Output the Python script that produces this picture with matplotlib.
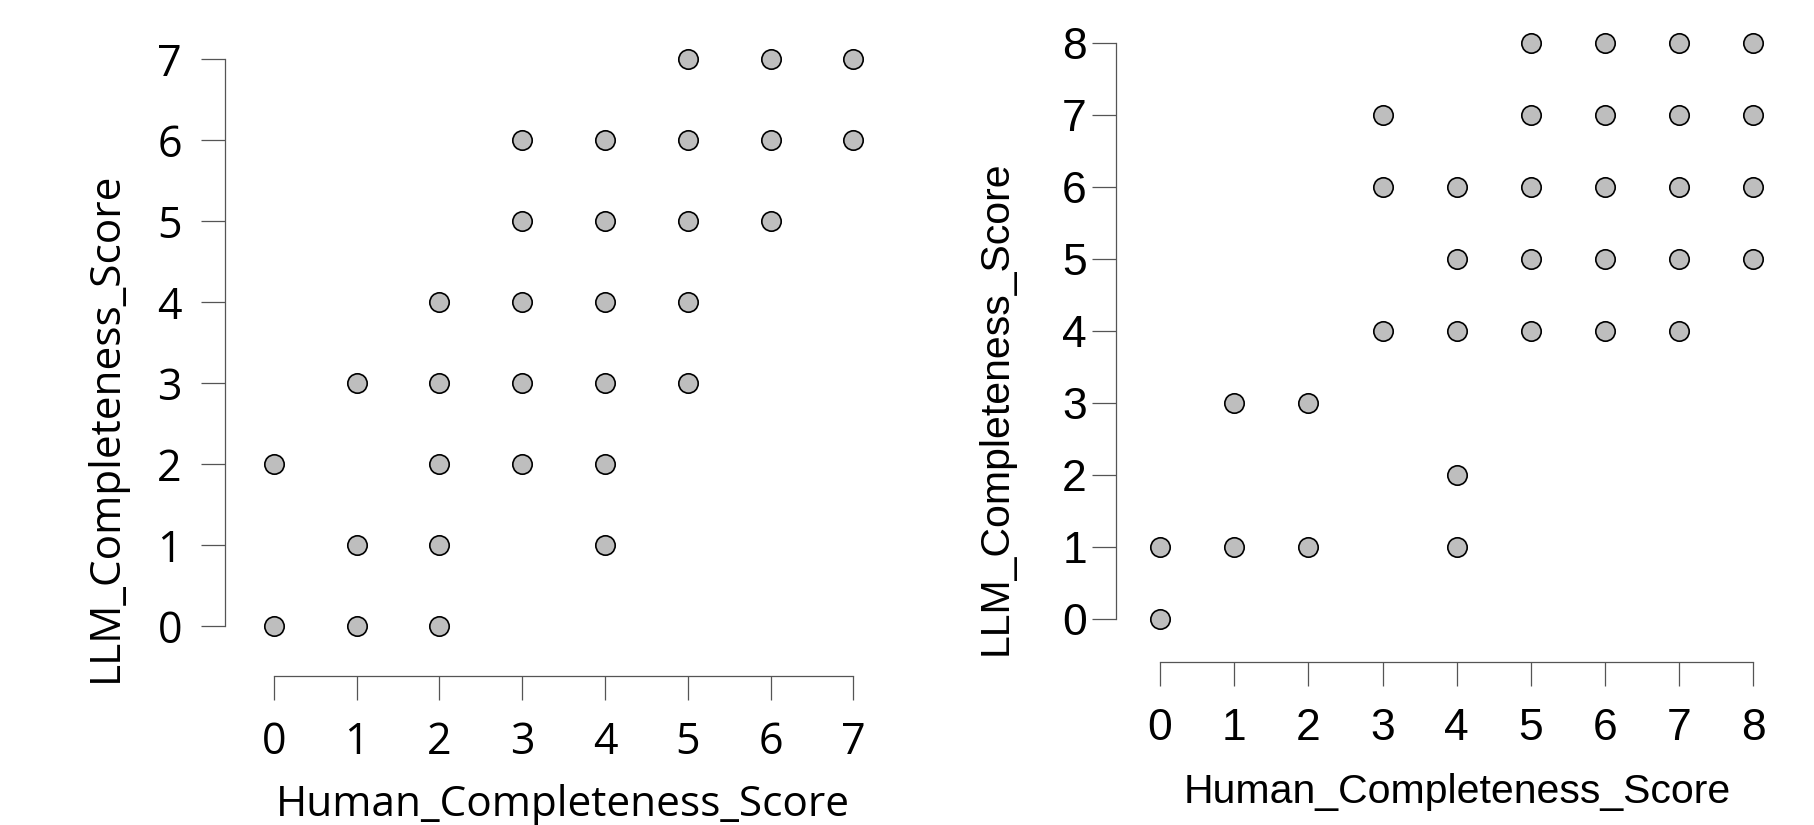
import matplotlib.pyplot as plt
import numpy as np

# left panel: human vs LLM completeness scores (0-7)
left_human = [0, 0, 1, 1, 1, 2, 2, 2, 2, 2, 3, 3, 3, 3, 3,
              4, 4, 4, 4, 4, 4, 5, 5, 5, 5, 5, 6, 6, 6, 7, 7]
left_llm = [0, 2, 0, 1, 3, 0, 1, 2, 3, 4, 2, 3, 4, 5, 6,
            1, 2, 3, 4, 5, 6, 3, 4, 5, 6, 7, 5, 6, 7, 6, 7]

# right panel: human vs LLM completeness scores (0-8)
right_human = [0, 0, 1, 1, 2, 2, 3, 3, 3, 4, 4, 4, 4, 4,
               5, 5, 5, 5, 5, 6, 6, 6, 6, 6, 7, 7, 7, 7, 7, 8, 8, 8, 8]
right_llm = [0, 1, 1, 3, 1, 3, 4, 6, 7, 1, 2, 4, 5, 6,
             4, 5, 6, 7, 8, 4, 5, 6, 7, 8, 4, 5, 6, 7, 8, 5, 6, 7, 8]

W, H = 1815, 825
fig = plt.figure(figsize=(W / 100, H / 100), dpi=100)


def px_axes(left, top, right, bottom):
    return fig.add_axes([left / W, 1 - bottom / H, (right - left) / W, (bottom - top) / H])


def style(ax, xs, ys, nmax, xlim, ylim, font, xpad, ypad, size):
    ax.scatter(xs, ys, s=195, c="#bebebe", edgecolors="black",
               linewidths=1.2, zorder=3, clip_on=False)
    ax.set_xlim(*xlim)
    ax.set_ylim(*ylim)
    ticks = np.arange(nmax + 1)
    ax.set_xticks(ticks)
    ax.set_yticks(ticks)
    for s in ["top", "right"]:
        ax.spines[s].set_visible(False)
    for s in ["left", "bottom"]:
        ax.spines[s].set_bounds(0, nmax)
        ax.spines[s].set_color("#555555")
        ax.spines[s].set_linewidth(0.9)
    ax.tick_params(axis="both", direction="out", length=17, width=0.9,
                   color="#555555", labelsize=size)
    ax.tick_params(axis="x", pad=xpad)
    ax.tick_params(axis="y", pad=ypad)
    for lab in ax.get_xticklabels() + ax.get_yticklabels():
        lab.set_fontfamily(font)
    ax.patch.set_alpha(0)


ax1 = px_axes(225, 39, 874, 676)
ax2 = px_axes(1116, 25, 1772, 662)

style(ax1, left_human, left_llm, 7, (-0.59, 7.25), (-0.617, 7.25), "Open Sans", 15, 14, 31)
style(ax2, right_human, right_llm, 8, (-0.593, 8.25), (-0.59, 8.25), "Liberation Sans", 16, 4, 32)

fig.text(563 / W, 1 - 805 / H, "Human_Completeness_Score", ha="center", va="center",
         fontsize=30.5, family="Open Sans")
fig.text(106 / W, 1 - 427 / H, "LLM_Completeness_Score", ha="center", va="center",
         fontsize=30.5, family="Open Sans", rotation=90)
fig.text(1457 / W, 1 - 792 / H, "Human_Completeness_Score", ha="center", va="center",
         fontsize=29.5, family="Liberation Sans")
fig.text(996 / W, 1 - 408 / H, "LLM_Completeness_Score", ha="center", va="center",
         fontsize=29.5, family="Liberation Sans", rotation=90)

plt.savefig("out.png", dpi=100)
